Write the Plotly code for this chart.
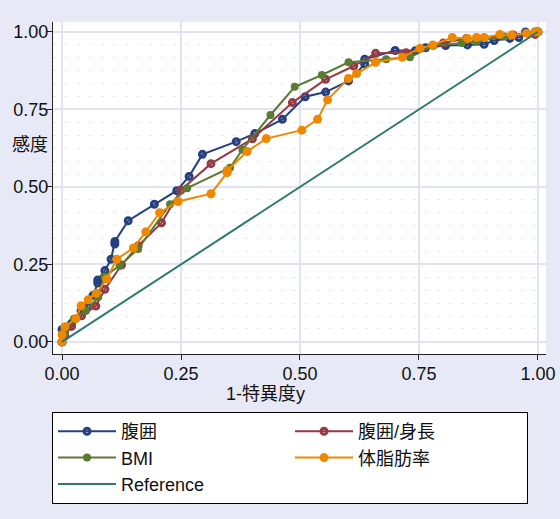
import plotly.graph_objects as go

# ---- data ----
waist_x = [0, 0, 0.006, 0.02, 0.04, 0.053, 0.065, 0.075, 0.075, 0.09, 0.103, 0.111, 0.111, 0.139,
           0.194, 0.241, 0.267, 0.295, 0.366, 0.405, 0.463, 0.511, 0.554, 0.602, 0.636, 0.636,
           0.700, 0.742, 0.764, 0.806, 0.852, 0.887, 0.908, 0.941, 0.960, 0.974, 0.994, 1]
waist_y = [0, 0.04, 0.045, 0.06, 0.10, 0.116, 0.15, 0.19, 0.20, 0.23, 0.267, 0.316, 0.324, 0.391,
           0.444, 0.488, 0.534, 0.605, 0.646, 0.672, 0.718, 0.791, 0.806, 0.842, 0.896, 0.912,
           0.940, 0.939, 0.949, 0.956, 0.958, 0.960, 0.972, 0.979, 0.982, 1.0, 1.0, 1.0]

whtr_x = [0, 0.006, 0.02, 0.041, 0.071, 0.09, 0.125, 0.16, 0.209, 0.250, 0.313, 0.400, 0.484,
          0.554, 0.613, 0.659, 0.723, 0.801, 0.850, 0.948, 0.994, 1]
whtr_y = [0, 0.02, 0.05, 0.084, 0.116, 0.17, 0.248, 0.31, 0.384, 0.490, 0.575, 0.655, 0.772,
          0.847, 0.890, 0.931, 0.933, 0.964, 0.979, 0.990, 0.992, 1]

bmi_x = [0, 0.006, 0.025, 0.05, 0.076, 0.089, 0.121, 0.16, 0.227, 0.263, 0.353, 0.379, 0.438,
         0.489, 0.546, 0.602, 0.681, 0.731, 0.780, 0.840, 0.870, 0.93, 1]
bmi_y = [0, 0.03, 0.075, 0.10, 0.145, 0.211, 0.246, 0.30, 0.444, 0.496, 0.562, 0.620, 0.732,
         0.823, 0.861, 0.902, 0.912, 0.918, 0.955, 0.964, 0.969, 0.985, 1]

fat_x = [0, 0, 0.006, 0.029, 0.040, 0.055, 0.072, 0.094, 0.115, 0.150, 0.176, 0.205, 0.244,
         0.313, 0.347, 0.347, 0.389, 0.429, 0.504, 0.537, 0.558, 0.602, 0.619, 0.659, 0.715,
         0.752, 0.779, 0.820, 0.852, 0.871, 0.887, 0.920, 0.945, 0.976, 0.994, 1]
fat_y = [0, 0.023, 0.049, 0.075, 0.117, 0.136, 0.157, 0.203, 0.267, 0.303, 0.355, 0.417, 0.453,
         0.478, 0.546, 0.553, 0.614, 0.656, 0.683, 0.718, 0.781, 0.850, 0.866, 0.902, 0.918,
         0.947, 0.958, 0.982, 0.979, 0.982, 0.982, 0.992, 0.990, 0.996, 1.0, 1.0]

ref_x = [0, 1]
ref_y = [0, 1]

tick_vals = [0, 0.25, 0.5, 0.75, 1.0]
tick_text = ["0.00", "0.25", "0.50", "0.75", "1.00"]

names = ["腹囲", "腹囲/身長", "BMI", "体脂肪率", "Reference"]
x_title = "1-特異度y"
y_title = "感度"

FONT = "Liberation Sans, Arial, Noto Sans CJK JP, sans-serif"
NAVY, MAROON, GREEN, ORANGE, TEAL = "#26407e", "#953a45", "#5a7b31", "#ee8800", "#2e7a6c"
PAPER = "#e8e9f6"
GRID = "#e1e3f3"

fig = go.Figure()
fig.add_trace(go.Scatter(x=waist_x, y=waist_y, name=names[0], mode="lines+markers",
                         line=dict(color=NAVY, width=2),
                         marker=dict(symbol="circle-open", size=6, color=NAVY,
                                     line=dict(width=3, color=NAVY))))
fig.add_trace(go.Scatter(x=whtr_x, y=whtr_y, name=names[1], mode="lines+markers",
                         line=dict(color=MAROON, width=2),
                         marker=dict(symbol="circle-open", size=6, color=MAROON,
                                     line=dict(width=3, color=MAROON))))
fig.add_trace(go.Scatter(x=bmi_x, y=bmi_y, name=names[2], mode="lines+markers",
                         line=dict(color=GREEN, width=2),
                         marker=dict(symbol="circle", size=8, color=GREEN)))
fig.add_trace(go.Scatter(x=fat_x, y=fat_y, name=names[3], mode="lines+markers",
                         line=dict(color=ORANGE, width=2),
                         marker=dict(symbol="circle", size=9, color=ORANGE)))
fig.add_trace(go.Scatter(x=ref_x, y=ref_y, name=names[4], mode="lines",
                         line=dict(color=TEAL, width=2)))

axis_common = dict(
    tickvals=tick_vals, ticktext=tick_text,
    showgrid=True, gridcolor=GRID, gridwidth=2,
    zeroline=False, showline=True, linecolor="#222222", linewidth=1,
    ticks="outside", ticklen=5, tickcolor="#222222",
    tickfont=dict(family=FONT, size=18, color="#111111"),
    automargin=False,
)

fig.update_xaxes(range=[-0.019, 1.017], ticklabelstandoff=-2, **axis_common)
fig.update_yaxes(range=[-0.039, 1.032], ticklabelstandoff=-5, **axis_common)
fig.update_yaxes(minor=dict(dtick=0.25 / 6, showgrid=True, gridcolor="#e4e6f5",
                            gridwidth=1, griddash="3px,9px"))

fig.add_annotation(text=y_title, xref="paper", yref="y", x=-0.006, y=0.635,
                   xanchor="right", yanchor="middle", showarrow=False,
                   font=dict(family=FONT, size=18, color="#111111"))
fig.add_annotation(text=x_title, xref="paper", yref="paper", x=0.432, y=-0.1205,
                   xanchor="center", yanchor="middle", showarrow=False,
                   font=dict(family=FONT, size=18, color="#111111"))

fig.update_layout(
    width=560, height=519,
    margin=dict(l=53, r=14, t=22, b=165, autoexpand=False),
    paper_bgcolor=PAPER, plot_bgcolor="white",
    showlegend=True,
    legend=dict(orientation="h", x=-0.002, xanchor="left", y=-0.1747, yanchor="top",
                bgcolor="white", bordercolor="black", borderwidth=1,
                font=dict(family=FONT, size=18, color="#111111"),
                itemwidth=58, entrywidth=164, entrywidthmode="pixels",
                traceorder="normal"),
)

fig.write_html("out.html", config={"displayModeBar": False},
               post_script="document.body.style.margin='0';document.body.style.background='" + PAPER + "';")
